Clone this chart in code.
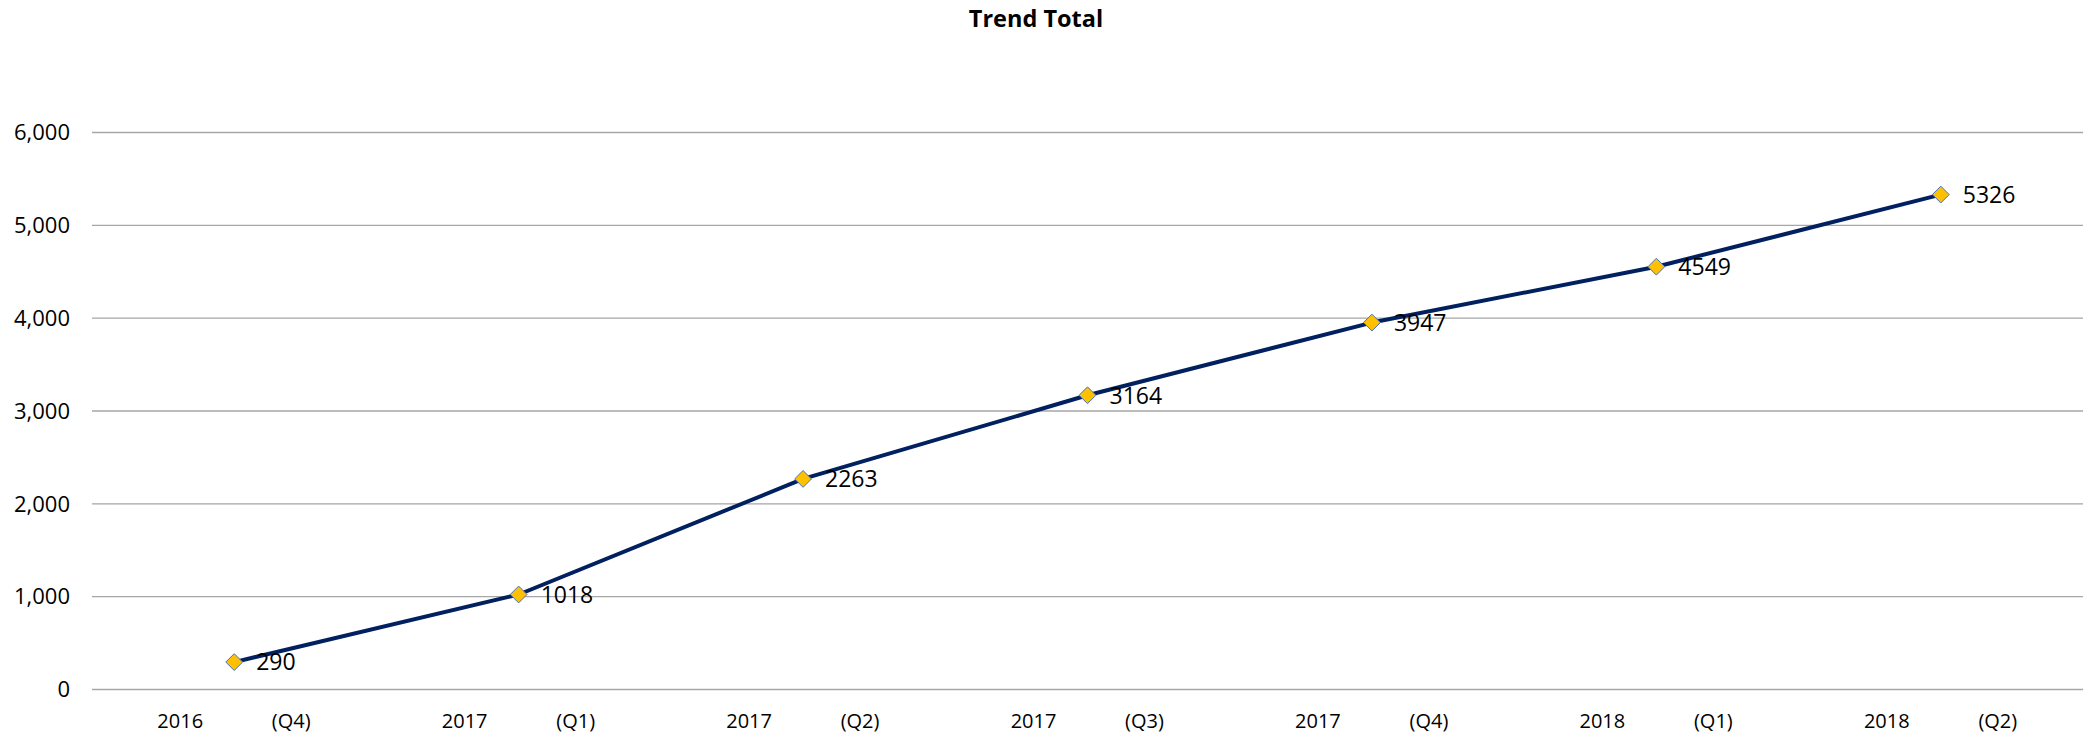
<!DOCTYPE html>
<html>
<head>
<meta charset="utf-8">
<script src="https://cdn.jsdelivr.net/npm/d3@7"></script>
<style>
  html, body { margin: 0; padding: 0; background: #fff; }
  #chart text { font-family: "Open Sans", "Noto Sans", sans-serif; fill: #000; }
</style>
</head>
<body>
<div id="chart"></div>
<script>
  const YEARS = ["2016", "2017", "2017", "2017", "2017", "2018", "2018"];
  const QUARTERS = ["(Q4)", "(Q1)", "(Q2)", "(Q3)", "(Q4)", "(Q1)", "(Q2)"];
  const TOTALS = [290, 1018, 2263, 3164, 3947, 4549, 5326];
  const Y_TICKS = [0, 1000, 2000, 3000, 4000, 5000, 6000];

  (() => {
    const width = 2084;
    const height = 736;
    const margin = { top: 132, right: 1, bottom: 47, left: 92 };

    const categories = YEARS.map((y, i) => `${y} ${QUARTERS[i]}`);
    const points = categories.map((c, i) => ({ key: c, year: YEARS[i], quarter: QUARTERS[i], value: TOTALS[i] }));

    const svg = d3
      .select("#chart")
      .append("svg")
      .attr("width", width)
      .attr("height", height);

    const x = d3
      .scaleBand()
      .domain(categories)
      .range([margin.left, width - margin.right]);
    const y = d3
      .scaleLinear()
      .domain([0, 6000])
      .range([height - margin.bottom, margin.top]);

    svg
      .append("text")
      .attr("x", 1036)
      .attr("y", 27)
      .attr("text-anchor", "middle")
      .attr("font-size", 23.5)
      .attr("font-weight", "bold")
      .text("Trend Total");

    // gridlines + y labels
    const yAxis = svg
      .append("g")
      .attr("transform", `translate(${margin.left},0)`)
      .call(
        d3
          .axisLeft(y)
          .tickValues(Y_TICKS)
          .tickSize(-(width - margin.left - margin.right))
          .tickPadding(22)
          .tickFormat(d3.format(",.0f"))
      );
    yAxis.select(".domain").remove();
    yAxis.selectAll(".tick line").attr("stroke", "#a6a6a6").attr("stroke-width", 1.3);
    yAxis.selectAll(".tick text").attr("font-size", 22).attr("dy", "0.35em");

    // x labels: year and quarter split across the band
    const xLabels = svg
      .append("g")
      .selectAll("g")
      .data(points)
      .join("g")
      .attr("transform", (d) => `translate(${x(d.key) + x.bandwidth() / 2},${height - 8})`);
    xLabels
      .append("text")
      .attr("x", -54)
      .attr("text-anchor", "middle")
      .attr("font-size", 20)
      .text((d) => d.year);
    xLabels
      .append("text")
      .attr("x", 57)
      .attr("text-anchor", "middle")
      .attr("font-size", 20)
      .text((d) => d.quarter);

    const cx = (d) => x(d.key) + x.bandwidth() / 2;

    const line = d3
      .line()
      .x(cx)
      .y((d) => y(d.value));

    svg
      .append("path")
      .datum(points)
      .attr("fill", "none")
      .attr("stroke", "#002060")
      .attr("stroke-width", 4)
      .attr("stroke-linejoin", "round")
      .attr("d", line);

    svg
      .append("g")
      .selectAll("path")
      .data(points)
      .join("path")
      .attr("transform", (d) => `translate(${cx(d)},${y(d.value)})`)
      .attr("d", d3.symbol(d3.symbolDiamond2, 180)())
      .attr("fill", "#ffc000")
      .attr("stroke", "#4472c4")
      .attr("stroke-width", 1);

    svg
      .append("g")
      .selectAll("text")
      .data(points)
      .join("text")
      .attr("x", (d) => cx(d) + 22)
      .attr("y", (d) => y(d.value))
      .attr("dy", "0.36em")
      .attr("font-size", 23)
      .text((d) => d.value);
  })();
</script>
</body>
</html>
